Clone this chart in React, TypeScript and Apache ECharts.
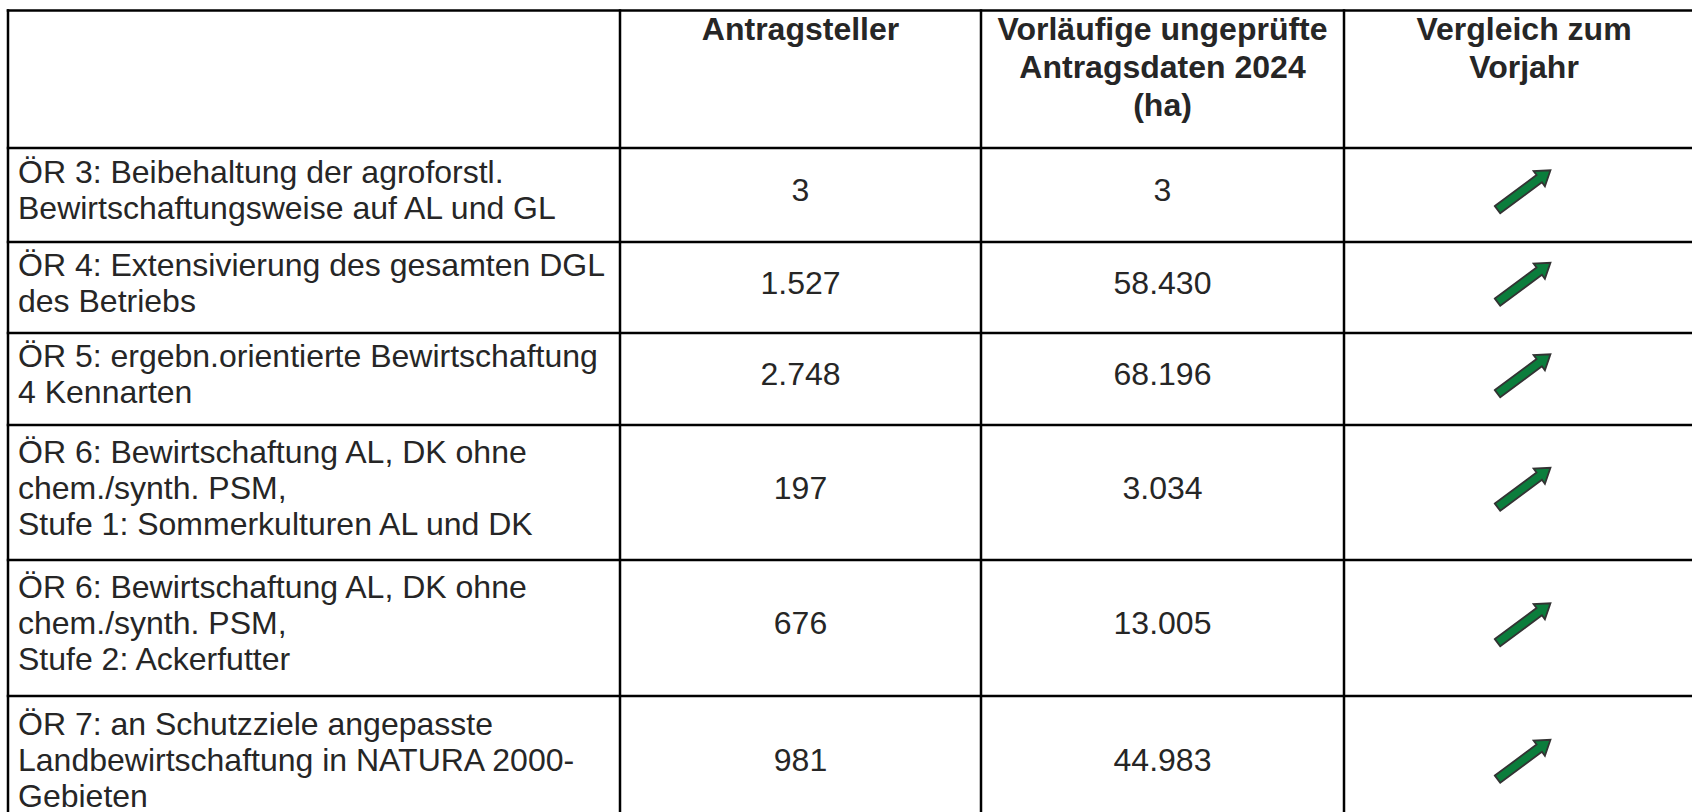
import React, { useEffect, useRef } from 'react';
import * as echarts from 'echarts';

// ---- data ----
const headers: string[] = [
  '',
  'Antragsteller',
  'Vorläufige ungeprüfte\nAntragsdaten 2024\n(ha)',
  'Vergleich zum\nVorjahr',
];
const measures: string[] = [
  'ÖR 3: Beibehaltung der agroforstl.\nBewirtschaftungsweise auf AL und GL',
  'ÖR 4: Extensivierung des gesamten DGL\ndes Betriebs',
  'ÖR 5: ergebn.orientierte Bewirtschaftung\n4 Kennarten',
  'ÖR 6: Bewirtschaftung AL, DK ohne\nchem./synth. PSM,\nStufe 1: Sommerkulturen AL und DK',
  'ÖR 6: Bewirtschaftung AL, DK ohne\nchem./synth. PSM,\nStufe 2: Ackerfutter',
  'ÖR 7: an Schutzziele angepasste\nLandbewirtschaftung in NATURA 2000-\nGebieten',
];
const applicants: string[] = ['3', '1.527', '2.748', '197', '676', '981'];
const areaHa: string[] = ['3', '58.430', '68.196', '3.034', '13.005', '44.983'];
const trend: string[] = ['up', 'up', 'up', 'up', 'up', 'up'];

// ---- layout ----
const COL_X = [8, 620, 981, 1344, 1704];
const ROW_Y = [10.5, 148, 242, 333, 425, 560, 696, 833];
const FONT = 'Liberation Sans, Arial, sans-serif';
const FS = 32;
const HEAD_PITCH = 38;
const BODY_PITCH = 36;
const TEXT_COLOR = '#262626';

function textLines(
  s: string, x: number, centerY: number, pitch: number, align: string, bold: boolean
): any[] {
  const lines = s.split('\n');
  const n = lines.length;
  return lines.map((ln, i) => ({
    type: 'text',
    x,
    y: centerY + (i - (n - 1) / 2) * pitch,
    silent: true,
    style: {
      text: ln,
      fontFamily: FONT,
      fontSize: FS,
      lineHeight: 34,
      fontWeight: bold ? 'bold' : 'normal',
      fill: TEXT_COLOR,
      align,
      verticalAlign: 'middle',
      textAlign: align,
      textVerticalAlign: 'middle',
    },
  }));
}

function arrow(cx: number, cy: number, dir: string): any {
  const L = 33;
  const pts = [
    [-L, -4.5], [L - 14, -4.5], [L - 14, -9.5], [L, 0], [L - 14, 9.5], [L - 14, 4.5], [-L, 4.5],
  ];
  const ang = dir === 'up' ? 0.64 : dir === 'down' ? -0.64 : 0;
  return {
    type: 'polygon',
    x: cx,
    y: cy,
    rotation: ang,
    silent: true,
    shape: { points: pts },
    style: { fill: '#0b7d3c', stroke: '#333333', lineWidth: 1.8, lineJoin: 'miter' },
  };
}

export default function App() {
  const ref = useRef<HTMLDivElement>(null);
  useEffect(() => {
    if (!ref.current) return;
    const chart = echarts.init(ref.current, undefined, { renderer: 'svg' });
    const els: any[] = [];
    const top = ROW_Y[0];
    const bottom = ROW_Y[ROW_Y.length - 1];

    els.push({
      type: 'rect', silent: true,
      shape: { x: 0, y: 0, width: 1692, height: 812 },
      style: { fill: '#ffffff' },
    });

    // header
    headers.forEach((h, c) => {
      if (!h) return;
      const cx = (COL_X[c] + COL_X[c + 1]) / 2;
      const n = h.split('\n').length;
      const firstCenter = 29;
      els.push(...textLines(h, cx, firstCenter + ((n - 1) / 2) * HEAD_PITCH, HEAD_PITCH, 'center', true));
    });

    // body
    measures.forEach((m, r) => {
      const cy = (ROW_Y[r + 1] + ROW_Y[r + 2]) / 2 - 5;
      els.push(...textLines(m, COL_X[0] + 10, cy, BODY_PITCH, 'left', false));
      els.push(...textLines(applicants[r], (COL_X[1] + COL_X[2]) / 2, cy, BODY_PITCH, 'center', false));
      els.push(...textLines(areaHa[r], (COL_X[2] + COL_X[3]) / 2, cy, BODY_PITCH, 'center', false));
      els.push(arrow((COL_X[3] + COL_X[4]) / 2, cy, trend[r]));
    });

    // grid lines
    ROW_Y.forEach((y) => {
      els.push({
        type: 'line', silent: true,
        shape: { x1: COL_X[0] - 1.25, y1: y, x2: COL_X[COL_X.length - 1] + 1.25, y2: y },
        style: { stroke: '#000000', lineWidth: 2.5 },
      });
    });
    COL_X.forEach((x) => {
      els.push({
        type: 'line', silent: true,
        shape: { x1: x, y1: top - 1.25, x2: x, y2: bottom + 1.25 },
        style: { stroke: '#000000', lineWidth: 2.5 },
      });
    });

    chart.setOption({
      animation: false,
      backgroundColor: '#ffffff',
      graphic: { elements: els },
    });
    return () => chart.dispose();
  }, []);
  return (
    <div
      ref={ref}
      style={{ position: 'fixed', left: 0, top: 0, width: 1692, height: 812, background: '#fff' }}
    />
  );
}
